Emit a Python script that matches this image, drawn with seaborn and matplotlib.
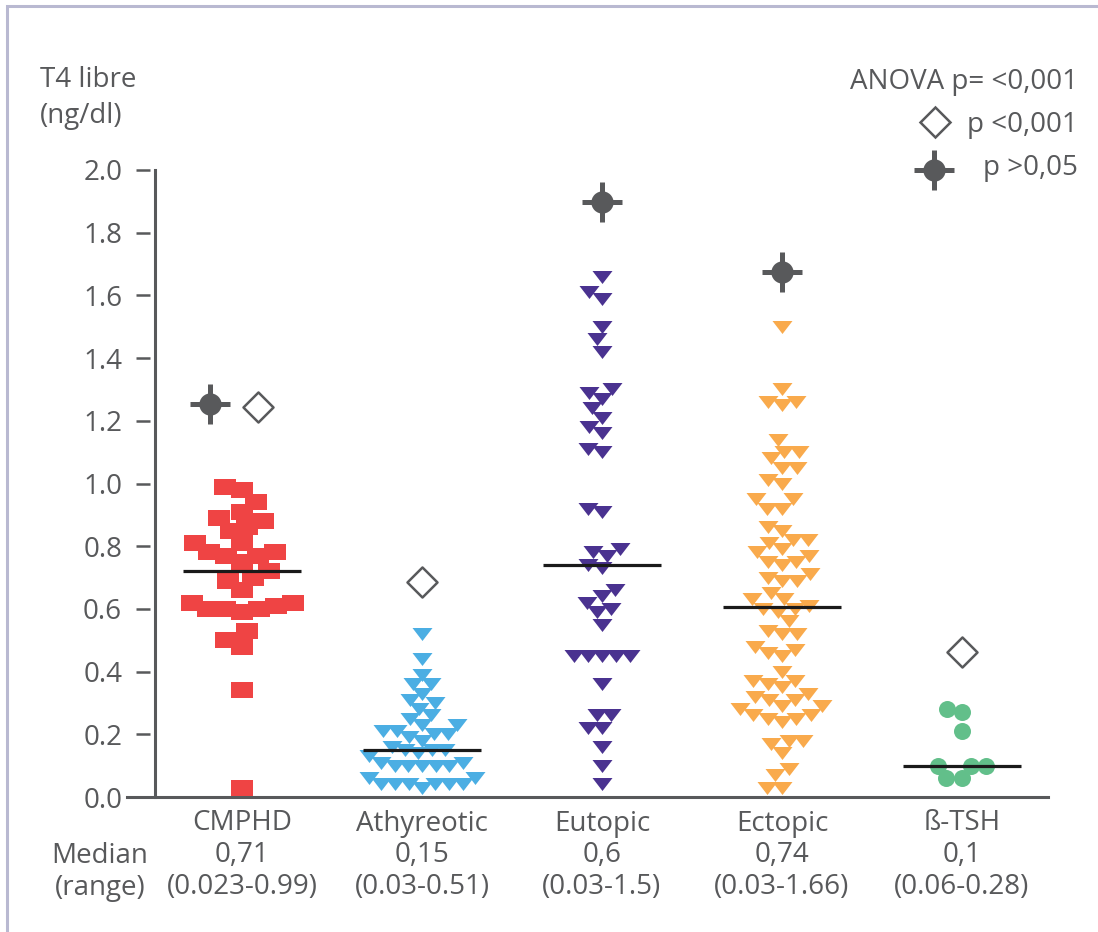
import matplotlib
matplotlib.use("Agg")
import numpy as np
import pandas as pd
import seaborn as sns
import matplotlib.pyplot as plt
from matplotlib.path import Path
from matplotlib.lines import Line2D
from matplotlib.patches import Rectangle

# ---------------- data ----------------
categories = ["CMPHD", "Athyreotic", "Eutopic", "Ectopic", "ß-TSH"]
median_labels = ["0,71", "0,15", "0,6", "0,74", "0,1"]
range_labels = ["(0.023-0.99)", "(0.03-0.51)", "(0.03-1.5)", "(0.03-1.66)", "(0.06-0.28)"]

cmphd = [0.99, 0.98, 0.94, 0.91, 0.89, 0.88, 0.86, 0.85, 0.81, 0.81, 0.78, 0.78,
         0.77, 0.77, 0.75, 0.72, 0.70, 0.69, 0.66, 0.62, 0.62, 0.61, 0.60, 0.60,
         0.60, 0.59, 0.53, 0.50, 0.48, 0.34, 0.03]
athyreotic = [0.52, 0.44, 0.39, 0.36, 0.36, 0.33, 0.31, 0.30, 0.28, 0.26, 0.25,
              0.23, 0.23, 0.21, 0.21, 0.20, 0.20, 0.19, 0.18, 0.16, 0.15, 0.15,
              0.15, 0.14, 0.13, 0.11, 0.11, 0.10, 0.10, 0.10, 0.10, 0.10, 0.06,
              0.06, 0.04, 0.04, 0.04, 0.04, 0.04, 0.04, 0.03]
eutopic = [1.66, 1.61, 1.59, 1.50, 1.46, 1.42, 1.30, 1.29, 1.27, 1.24, 1.21, 1.18,
           1.16, 1.11, 1.10, 0.92, 0.91, 0.79, 0.78, 0.77, 0.74, 0.73, 0.66, 0.64,
           0.62, 0.60, 0.59, 0.55, 0.45, 0.45, 0.45, 0.45, 0.45, 0.36, 0.26, 0.26,
           0.22, 0.22, 0.16, 0.10, 0.04]
ectopic = [1.50, 1.30, 1.26, 1.26, 1.25, 1.14, 1.10, 1.10, 1.08, 1.05, 1.05, 1.01,
           1.00, 0.95, 0.95, 0.92, 0.92, 0.86, 0.85, 0.82, 0.82, 0.81, 0.79, 0.78,
           0.77, 0.75, 0.75, 0.74, 0.71, 0.70, 0.69, 0.69, 0.65, 0.63, 0.63, 0.61,
           0.60, 0.60, 0.59, 0.56, 0.53, 0.52, 0.52, 0.48, 0.47, 0.46, 0.45, 0.40,
           0.37, 0.37, 0.36, 0.35, 0.33, 0.32, 0.31, 0.31, 0.29, 0.29, 0.28, 0.26,
           0.26, 0.25, 0.25, 0.24, 0.18, 0.18, 0.17, 0.14, 0.09, 0.07, 0.03, 0.03]
btsh = [0.28, 0.27, 0.21, 0.10, 0.10, 0.10, 0.06, 0.06]

# significance markers
diamond_groups = ["CMPHD", "Athyreotic", "ß-TSH"]
diamond_values = [1.243, 0.687, 0.464]
star_groups = ["CMPHD", "Eutopic", "Ectopic"]
star_values = [1.252, 1.898, 1.674]

y_ticks = [0.0, 0.2, 0.4, 0.6, 0.8, 1.0, 1.2, 1.4, 1.6, 1.8, 2.0]

# ---------------- style ----------------
GRAY = "#58595B"
colors = ["#EF4444", "#4BAEE3", "#4A3290", "#F9AA4C", "#62BF8A"]

sns.set_theme(style="white")
plt.rcParams["font.family"] = ["Open Sans", "DejaVu Sans"]
plt.rcParams["text.color"] = GRAY
FS = 20

rect_marker = Path([(-1, -0.72), (1, -0.72), (1, 0.72), (-1, 0.72), (-1, -0.72)], closed=True)
tri_marker = Path([(-1, 0.65), (1, 0.65), (0, -0.65), (-1, 0.65)], closed=True)
markers = [rect_marker, tri_marker, tri_marker, tri_marker, "o"]
swarm_px = [16.5, 13, 13.5, 14, 15]   # collision size used for the swarm layout
disp_px = [22, 20, 20, 20, 17]        # drawn marker size
series = [cmphd, athyreotic, eutopic, ectopic, btsh]

W, H = 1098, 932
fig = plt.figure(figsize=(W / 100, H / 100), dpi=100)
ax = fig.add_axes([127 / W, 1 - 797 / H, 921 / W, 627 / H])

swarm_colls = []
for cat, vals, mk, col, spx, dpx in zip(categories, series, markers, colors, swarm_px, disp_px):
    n0 = len(ax.collections)
    sns.swarmplot(x=[cat] * len(vals), y=vals, order=categories, marker=mk, color=col,
                  size=spx * 0.72, linewidth=0, ax=ax, legend=False, zorder=3)
    swarm_colls.append((ax.collections[n0:], dpx))

# medians
df_all = pd.DataFrame({
    "group": np.repeat(categories, [len(s) for s in series]),
    "value": np.concatenate(series),
})
sns.pointplot(data=df_all, x="group", y="value", order=categories, estimator="median",
              errorbar=None, color="#1a1a1a", marker="_", markersize=85,
              markeredgewidth=2.3, linestyle="none", ax=ax, zorder=5)

# significance markers (the CMPHD pair is dodged side by side)
slots = ["s0", "s1", "star", "s3", "s4", "diamond", "s6", "s7", "s8"]
pal_gray = {k: GRAY for k in slots}
pal_white = {k: "white" for k in slots}
df_dia = pd.DataFrame({"group": diamond_groups, "value": diamond_values, "kind": "diamond"})
df_star = pd.DataFrame({"group": star_groups, "value": star_values, "kind": "star"})

for df_k in (df_dia, df_star):
    is_dia = df_k["kind"].iloc[0] == "diamond"
    for pair in (True, False):
        sub = df_k[df_k["group"] == "CMPHD"] if pair else df_k[df_k["group"] != "CMPHD"]
        if pair:
            extra = dict(hue="kind", hue_order=slots, dodge=True,
                         palette=pal_white if is_dia else pal_gray)
        else:
            extra = dict(color="white" if is_dia else GRAY)
        if is_dia:
            sns.stripplot(data=sub, x="group", y="value", order=categories, jitter=False,
                          marker="D", size=15.3, edgecolor=GRAY, linewidth=1.8,
                          ax=ax, legend=False, zorder=4, **extra)
        else:
            sns.stripplot(data=sub, x="group", y="value", order=categories, jitter=False,
                          marker="o", size=16, linewidth=0, ax=ax, legend=False,
                          zorder=4, **extra)
            sns.stripplot(data=sub, x="group", y="value", order=categories, jitter=False,
                          marker="+", size=29.5, linewidth=3.6, edgecolor=GRAY,
                          ax=ax, legend=False, zorder=4, **extra)

# ---------------- axes ----------------
ax.set_ylim(0, 2.0)
ax.set_xlim(-0.639, 4.478)
ax.set_xlabel("")
ax.set_ylabel("")

for s in ["top"]:
    ax.spines[s].set_visible(False)
ax.spines["left"].set_position(("axes", 0.025))
ax.spines["left"].set_visible(False)
ax.spines["right"].set_position(("axes", 0.0304))
ax.spines["right"].set_color(GRAY)
ax.spines["right"].set_linewidth(2.2)
ax.spines["bottom"].set_color(GRAY)
ax.spines["bottom"].set_linewidth(2.2)
ax.yaxis.set_ticks_position("left")

ax.set_yticks(y_ticks)
ax.set_yticklabels([f"{t:.1f}" for t in y_ticks])
ax.set_xticks(range(len(categories)))
ax.set_xticklabels([f"{c}\n{m}\n{r}" for c, m, r in zip(categories, median_labels, range_labels)],
                   linespacing=1.17)
ax.tick_params(axis="x", length=0, pad=9, labelsize=FS, labelcolor=GRAY)
ax.tick_params(axis="y", direction="out", length=10, width=1.8, color=GRAY, pad=10,
               left=True, right=False, labelsize=FS, labelcolor=GRAY)

# lay out the swarms, then enlarge the markers to their drawn size
fig.canvas.draw()
for colls, dpx in swarm_colls:
    for c in colls:
        if "draw" in c.__dict__:
            del c.draw
        c.set_sizes([(dpx * 0.72) ** 2])

# ---------------- texts ----------------
fig.text(40 / W, 1 - 66 / H, "T4 libre\n(ng/dl)", ha="left", va="top", fontsize=FS,
         color=GRAY, linespacing=1.4)
fig.text(100 / W, 1 - 872 / H, "Median\n(range)", ha="center", va="center", fontsize=FS,
         color=GRAY, linespacing=1.17)

fig.text(1078 / W, 1 - 82 / H, "ANOVA p= <0,001", ha="right", va="center", fontsize=FS, color=GRAY)
fig.text(1078 / W, 1 - 125 / H, "p <0,001", ha="right", va="center", fontsize=FS, color=GRAY)
fig.text(1078 / W, 1 - 168 / H, "p >0,05", ha="right", va="center", fontsize=FS, color=GRAY)
fig.add_artist(Line2D([935 / W], [1 - 122 / H], transform=fig.transFigure, marker="D",
                      markersize=15.3, markerfacecolor="white", markeredgecolor=GRAY,
                      markeredgewidth=1.8, linestyle="none"))
fig.add_artist(Line2D([934 / W], [1 - 170 / H], transform=fig.transFigure, marker="o",
                      markersize=16, markerfacecolor=GRAY, markeredgewidth=0, linestyle="none"))
fig.add_artist(Line2D([934 / W], [1 - 170 / H], transform=fig.transFigure, marker="+",
                      markersize=29.5, markeredgecolor=GRAY, markeredgewidth=3.6, linestyle="none"))

# frame around the panel
fig.add_artist(Rectangle((6.5 / W, -0.1), 1.2, 1 - 5.5 / H + 0.1, transform=fig.transFigure,
                         fill=False, edgecolor="#B9B9D1", linewidth=2.2, clip_on=False))

fig.savefig("out.png", dpi=100)
